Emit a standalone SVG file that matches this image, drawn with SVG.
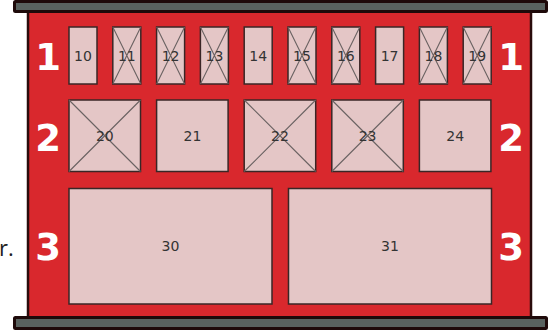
<svg xmlns="http://www.w3.org/2000/svg" width="553" height="336" viewBox="0 0 553 336">
<style>
.body{fill:#d9282d;stroke:#2a0c0c;stroke-width:2.5}
.bar{fill:#59625f;stroke:#1e0a0a;stroke-width:3}
.box{fill:#e4c6c6;stroke:#3a2626;stroke-width:1.5}
.x{stroke:#6a6262;stroke-width:1.1;fill:none}
.n{font-family:"DejaVu Sans",sans-serif;font-size:14px;fill:#333;text-anchor:middle;dominant-baseline:central}
.row{font-family:"DejaVu Sans",sans-serif;font-weight:bold;font-size:37px;fill:#fff;text-anchor:middle}
.cut{font-family:"Open Sans",sans-serif;font-size:22px;fill:#222}
</style>
<text class="cut" x="-1" y="256">r.</text>
<g id="frame">
<rect class="body" x="28" y="10" width="503" height="309"/>
<rect class="bar" x="14.5" y="1.5" width="532" height="10" rx="1"/>
<rect class="bar" x="14.5" y="317.5" width="532" height="11" rx="1"/>
</g>
<g id="labels">
<text class="row" x="48" y="70">1</text>
<text class="row" x="511" y="70">1</text>
<text class="row" x="48" y="151">2</text>
<text class="row" x="511" y="151">2</text>
<text class="row" x="48" y="260">3</text>
<text class="row" x="511" y="260">3</text>
</g>
<g id="f10"><rect class="box" x="69" y="27" width="28" height="57"/><text class="n" x="83" y="56">10</text></g>
<g id="f11"><rect class="box" x="112.8" y="27" width="28" height="57"/><path class="x" d="M112.8 27L140.8 84M140.8 27L112.8 84"/><text class="n" x="126.8" y="56">11</text></g>
<g id="f12"><rect class="box" x="156.6" y="27" width="28" height="57"/><path class="x" d="M156.6 27L184.6 84M184.6 27L156.6 84"/><text class="n" x="170.6" y="56">12</text></g>
<g id="f13"><rect class="box" x="200.4" y="27" width="28" height="57"/><path class="x" d="M200.4 27L228.4 84M228.4 27L200.4 84"/><text class="n" x="214.4" y="56">13</text></g>
<g id="f14"><rect class="box" x="244.2" y="27" width="28" height="57"/><text class="n" x="258.2" y="56">14</text></g>
<g id="f15"><rect class="box" x="288" y="27" width="28" height="57"/><path class="x" d="M288 27L316 84M316 27L288 84"/><text class="n" x="302" y="56">15</text></g>
<g id="f16"><rect class="box" x="331.8" y="27" width="28" height="57"/><path class="x" d="M331.8 27L359.8 84M359.8 27L331.8 84"/><text class="n" x="345.8" y="56">16</text></g>
<g id="f17"><rect class="box" x="375.6" y="27" width="28" height="57"/><text class="n" x="389.6" y="56">17</text></g>
<g id="f18"><rect class="box" x="419.4" y="27" width="28" height="57"/><path class="x" d="M419.4 27L447.4 84M447.4 27L419.4 84"/><text class="n" x="433.4" y="56">18</text></g>
<g id="f19"><rect class="box" x="463.2" y="27" width="28" height="57"/><path class="x" d="M463.2 27L491.2 84M491.2 27L463.2 84"/><text class="n" x="477.2" y="56">19</text></g>
<g id="f20"><rect class="box" x="69" y="100" width="71.5" height="71.5"/><path class="x" d="M69 100L140.5 171.5M140.5 100L69 171.5"/><text class="n" x="104.8" y="136">20</text></g>
<g id="f21"><rect class="box" x="156.6" y="100" width="71.5" height="71.5"/><text class="n" x="192.4" y="136">21</text></g>
<g id="f22"><rect class="box" x="244.2" y="100" width="71.5" height="71.5"/><path class="x" d="M244.2 100L315.7 171.5M315.7 100L244.2 171.5"/><text class="n" x="280" y="136">22</text></g>
<g id="f23"><rect class="box" x="331.8" y="100" width="71.5" height="71.5"/><path class="x" d="M331.8 100L403.3 171.5M403.3 100L331.8 171.5"/><text class="n" x="367.6" y="136">23</text></g>
<g id="f24"><rect class="box" x="419.4" y="100" width="71.5" height="71.5"/><text class="n" x="455.2" y="136">24</text></g>
<g id="f30"><rect class="box" x="69" y="188.5" width="203" height="115.5"/><text class="n" x="170.5" y="246">30</text></g>
<g id="f31"><rect class="box" x="288.5" y="188.5" width="203" height="115.5"/><text class="n" x="390" y="246">31</text></g>
<g id="connectors"/>
</svg>
